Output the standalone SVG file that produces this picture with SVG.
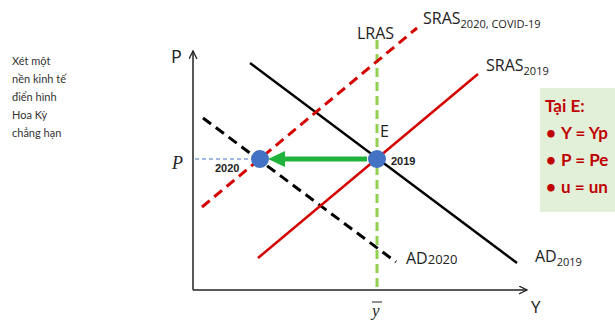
<svg xmlns="http://www.w3.org/2000/svg" width="615" height="320" viewBox="0 0 615 320">
<defs>
<style>
.lbl{font-family:"Open Sans","Liberation Sans",sans-serif;fill:#222}
.side{font-family:Lato,"Liberation Sans",sans-serif;font-size:11px;fill:#333}
.box{font-family:Lato,"Liberation Sans",sans-serif;font-size:17px;font-weight:bold;fill:#c00000}
.yr{font-family:"Liberation Sans",sans-serif;font-size:11px;font-weight:bold;fill:#222}
</style>
<marker id="ax" markerWidth="10" markerHeight="10" refX="8" refY="4" orient="auto" markerUnits="userSpaceOnUse">
<path d="M0,0 L8,4 L0,8" fill="none" stroke="#222" stroke-width="1.3"/>
</marker>
<marker id="gh" markerWidth="20" markerHeight="20" refX="2" refY="8" orient="auto" markerUnits="userSpaceOnUse">
<path d="M0,0 L17,8 L0,16 Z" fill="#1fb33c"/>
</marker>
</defs>
<rect width="615" height="320" fill="#fff"/>
<g id="side-note">
<text class="side" x="12" y="65">Xét một</text>
<text class="side" x="12" y="83">nền kinh tế</text>
<text class="side" x="12" y="101">điển hình</text>
<text class="side" x="12" y="119">Hoa Kỳ</text>
<text class="side" x="12" y="137">chẳng hạn</text>
</g>
<g id="axes">
<line x1="193" y1="290" x2="193" y2="51" stroke="#222" stroke-width="1.5" marker-end="url(#ax)"/>
<line x1="193" y1="290" x2="527" y2="290" stroke="#222" stroke-width="1.5" marker-end="url(#ax)"/>
<text class="lbl" x="171" y="63" font-size="18">P</text>
<text class="lbl" x="531" y="313" font-size="17">Y</text>
<text x="172" y="169" font-family="Liberation Serif,serif" font-style="italic" font-size="18" fill="#222">P</text>
<text x="372" y="316" font-family="Liberation Serif,serif" font-style="italic" font-size="17" fill="#222">y</text>
<line x1="372" y1="302" x2="382" y2="302" stroke="#222" stroke-width="1"/>
</g>
<g id="connectors">
<line x1="195" y1="159" x2="258" y2="159" stroke="#4472c4" stroke-width="1.2" stroke-dasharray="4,3"/>
<line x1="377" y1="40" x2="377" y2="290" stroke="#92d050" stroke-width="3" stroke-dasharray="9,5"/>
<line x1="250" y1="63" x2="517" y2="263" stroke="#000" stroke-width="2.5"/>
<line x1="203" y1="118" x2="396" y2="262" stroke="#000" stroke-width="3" stroke-dasharray="10,6"/>
<line x1="258" y1="258" x2="478" y2="74" stroke="#d50000" stroke-width="2.5"/>
<line x1="202" y1="207" x2="417" y2="28" stroke="#d50000" stroke-width="3" stroke-dasharray="10,6"/>
<line x1="367" y1="159" x2="283" y2="159" stroke="#1fb33c" stroke-width="5" marker-end="url(#gh)"/>
</g>
<g id="node-E">
<circle cx="377" cy="159" r="9" fill="#4472c4"/>
<text class="lbl" x="380" y="137" font-size="16">E</text>
<text class="yr" x="391" y="165">2019</text>
</g>
<g id="node-2020">
<circle cx="260" cy="159" r="9" fill="#4472c4"/>
<text class="yr" x="215" y="172">2020</text>
</g>
<g id="curve-labels">
<text class="lbl" x="357" y="39" font-size="16">LRAS</text>
<text class="lbl" x="423" y="24" font-size="16">SRAS<tspan font-size="11" dy="4">2020, COVID-19</tspan></text>
<text class="lbl" x="486" y="71" font-size="16">SRAS<tspan font-size="11" dy="4">2019</tspan></text>
<text class="lbl" x="406" y="264" font-size="16">AD<tspan font-size="13">2020</tspan></text>
<text class="lbl" x="535" y="262" font-size="16">AD<tspan font-size="11" dy="4">2019</tspan></text>
</g>
<g id="box-E">
<rect x="540" y="88" width="80" height="124" fill="#e2efd9"/>
<text class="box" x="545" y="112">Tại E:</text>
<text class="box" x="546" y="139">•<tspan x="561">Y = Yp</tspan></text>
<text class="box" x="546" y="166">•<tspan x="561">P = Pe</tspan></text>
<text class="box" x="546" y="193">•<tspan x="561">u = un</tspan></text>
</g>
</svg>
